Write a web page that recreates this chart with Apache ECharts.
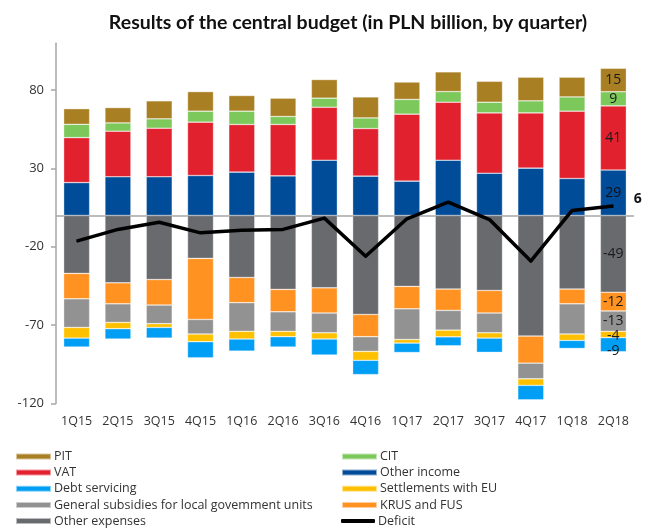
<!DOCTYPE html>
<html>
<head>
<meta charset="utf-8">
<script src="https://cdn.jsdelivr.net/npm/echarts@6/dist/echarts.min.js"></script>
<style>
  html, body { margin: 0; padding: 0; background: #fff; }
  #chart { width: 652px; height: 530px; }
</style>
</head>
<body>
<div id="chart"></div>
<script>
// Quarterly results of the central budget, PLN billion
var quarters = ['1Q15','2Q15','3Q15','4Q15','1Q16','2Q16','3Q16','4Q16','1Q17','2Q17','3Q17','4Q17','1Q18','2Q18'];

// Revenues (stacked upward)
var otherIncome = [21, 24.7, 24.7, 25.5, 27.7, 25.3, 35.3, 25.1, 21.9, 35.3, 27, 30.2, 23.6, 29];
var vat         = [28.7, 29.1, 31, 34.1, 30.4, 32.8, 33.8, 30.4, 42.8, 37, 38.5, 35.3, 43, 41];
var cit         = [8.5, 5.3, 6, 7, 8.5, 5.1, 5.8, 6.8, 9.4, 6.8, 6.8, 7.7, 9.1, 9];
var pit         = [10, 9.8, 11.5, 12.5, 10, 11.7, 11.9, 13.4, 11.1, 12.6, 13.4, 15.1, 12.6, 15];

// Expenditures (stacked downward)
var otherExpenses = [-37, -43, -40.9, -27.4, -39.6, -47.2, -46.2, -63.2, -45.3, -47, -47.9, -77, -47, -49];
var krusFus       = [-16.2, -13.4, -16.3, -39, -16.1, -14.3, -16.1, -14.2, -14.3, -13.6, -14.4, -17.3, -9.4, -12];
var subsidies     = [-18.3, -11.9, -11.9, -9.3, -18.3, -12.5, -12.6, -9.4, -19.6, -12.6, -12.6, -10, -19.3, -13];
var euSettlements = [-6.8, -4, -2.4, -4.9, -4.9, -3.4, -4, -5.7, -2.3, -4.3, -3.4, -4.2, -4.1, -4];
var debtServicing = [-5.7, -6.6, -6.8, -10.3, -7.7, -6.6, -10.2, -9.1, -6, -5.7, -9.1, -9.2, -5.1, -9];

// Balance
var deficit = [-16.4, -8.9, -4.3, -11.1, -9.4, -8.9, -1.7, -26, -2.1, 8.5, -2.6, -29.1, 3.2, 6];

// Y axis ticks
var yMin = -120, yMax = 110, yStep = 50;

// Legend layout: two columns, five rows
var legendLeft = ['PIT', 'VAT', 'Debt servicing', 'General subsidies for local govemment units', 'Other expenses'];
var legendRight = ['CIT', 'Other income', 'Settlements with EU', 'KRUS and FUS', 'Deficit'];

var labelFont = '"Open Sans", "Noto Sans", sans-serif';

// Only the latest quarter carries value labels
function withLastLabel(arr, extra) {
  return arr.map(function (v, i) {
    if (i !== arr.length - 1) return v;
    var lbl = { show: true, position: 'inside', color: '#1a1a1a', fontSize: 14, fontFamily: labelFont,
                formatter: function (p) { return Math.round(p.value); } };
    if (extra) for (var k in extra) lbl[k] = extra[k];
    return { value: v, label: lbl };
  });
}

function barSeries(name, data, color, extra) {
  return {
    name: name,
    type: 'bar',
    stack: 'budget',
    barWidth: 26,
    data: withLastLabel(data, extra),
    itemStyle: { color: color, borderColor: 'rgba(255,255,255,0.55)', borderWidth: 0.6 },
    emphasis: { disabled: true }
  };
}

var rowY = [456.5, 472.5, 488.7, 505, 521];
var legends = [];
function addLegendColumn(names, x) {
  names.forEach(function (name, i) {
    var isLine = name === 'Deficit';
    legends.push({
      left: x, top: rowY[i] - 8, padding: 0,
      itemWidth: isLine ? 34 : 35, itemHeight: isLine ? 4 : 6,
      icon: isLine ? 'roundRect' : 'rect',
      selectedMode: false,
      textStyle: { fontFamily: labelFont, fontSize: 12.5, color: '#333', lineHeight: 16, padding: [0, 0, 0, -2] },
      data: [name]
    });
  });
}
addLegendColumn(legendLeft, 15);
addLegendColumn(legendRight, 341);

var chart = echarts.init(document.getElementById('chart'), null, { renderer: 'canvas' });

chart.setOption({
  animation: false,
  backgroundColor: '#fff',
  title: {
    text: 'Results of the central budget (in PLN billion, by quarter)',
    left: 343, top: 8, textAlign: 'center',
    textStyle: { fontFamily: 'Lato, "Open Sans", sans-serif', fontWeight: 'bold', fontSize: 19.5, color: '#111' }
  },
  grid: { left: 56, right: 18, top: 43.2, bottom: 126.6, containLabel: false },
  legend: legends,
  xAxis: {
    type: 'category',
    data: quarters,
    axisLine: { show: false },
    axisTick: { show: false },
    axisLabel: { interval: 0, color: '#333', fontFamily: labelFont, fontSize: 12.5, margin: 12 }
  },
  yAxis: {
    type: 'value',
    min: yMin, max: yMax, interval: yStep,
    axisLine: { show: true, lineStyle: { color: '#a6a6a6', width: 1.5 } },
    axisTick: { show: true, length: 5, lineStyle: { color: '#a6a6a6', width: 1.5 } },
    axisLabel: { color: '#333', fontFamily: labelFont, fontSize: 13, margin: 12, showMaxLabel: false },
    splitLine: { show: false }
  },
  series: [
    barSeries('Other income', otherIncome, '#004C98', { color: '#111' }),
    barSeries('VAT', vat, '#E2212F'),
    barSeries('CIT', cit, '#7CC85B'),
    barSeries('PIT', pit, '#A97F24'),
    barSeries('Other expenses', otherExpenses, '#686A6E', { color: '#1a1a1a' }),
    barSeries('KRUS and FUS', krusFus, '#FF9221'),
    barSeries('General subsidies for local govemment units', subsidies, '#929292'),
    barSeries('Settlements with EU', euSettlements, '#FFC000', { offset: [0, 2] }),
    barSeries('Debt servicing', debtServicing, '#009EF5', { offset: [0, 6] }),
    {
      name: 'Deficit',
      type: 'line',
      data: deficit.map(function (v, i) {
        if (i !== deficit.length - 1) return v;
        return { value: v, label: { show: true, position: 'right', distance: 20, offset: [0, -7],
                 color: '#111', fontSize: 14, fontFamily: labelFont, fontWeight: 'bold' } };
      }),
      symbol: 'circle',
      symbolSize: 1,
      lineStyle: { color: '#000', width: 3.5, join: 'round' },
      itemStyle: { color: '#000' },
      z: 5,
      emphasis: { disabled: true },
      markLine: {
        silent: true,
        symbol: 'none',
        label: { show: false },
        lineStyle: { color: '#a6a6a6', width: 1.5, type: 'solid' },
        data: [{ yAxis: 0 }],
        z: 1
      }
    }
  ]
});
</script>
</body>
</html>
